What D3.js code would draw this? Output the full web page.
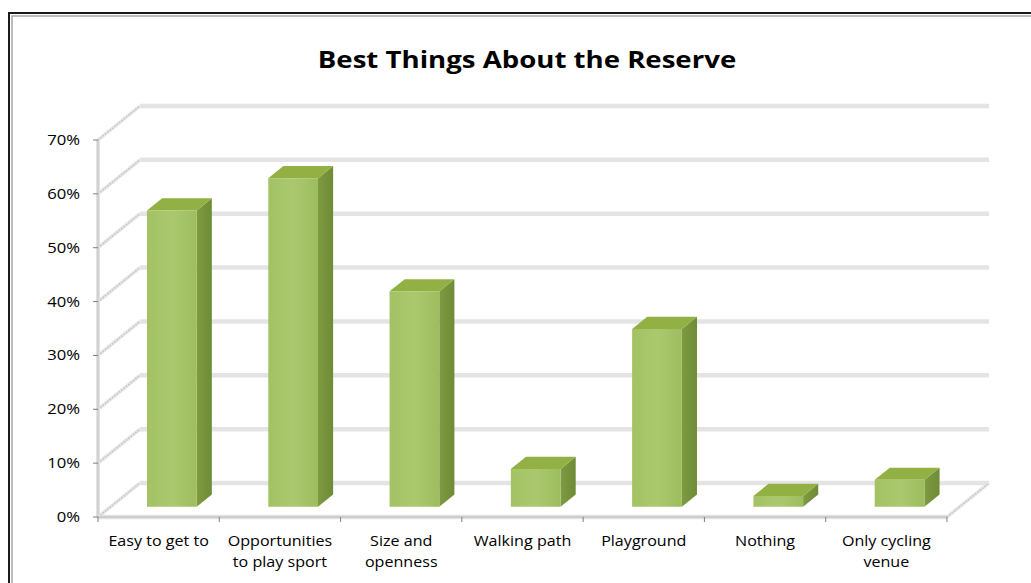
<!DOCTYPE html>
<html>
<head>
<meta charset="utf-8">
<script src="https://cdn.jsdelivr.net/npm/d3@7"></script>
<style>
  html, body { margin: 0; padding: 0; background: #ffffff; }
  svg { display: block; }
</style>
</head>
<body>
<svg id="chart" width="1031" height="583"></svg>
<script>
// ---- data ----
const categories = ["Easy to get to", "Opportunities to play sport", "Size and openness", "Walking path", "Playground", "Nothing", "Only cycling venue"];
const categoryLines = [["Easy to get to"], ["Opportunities", "to play sport"], ["Size and", "openness"], ["Walking path"], ["Playground"], ["Nothing"], ["Only cycling", "venue"]];
const values = [0.55, 0.61, 0.40, 0.07, 0.33, 0.02, 0.05];
const tickValues = [0, 0.1, 0.2, 0.3, 0.4, 0.5, 0.6, 0.7];
const title = "Best Things About the Reserve";

// ---- layout ----
const W = 1031, H = 583;
const svg = d3.select("#chart");
const FONT = "'Open Sans', Lato, sans-serif";
const SX = 1.15;                  // horizontal text stretch (source image is widened)
const DX = 42, DY = -34;          // full depth offset
const D0 = 0.30, D1 = 0.66;       // bar depth range

const x = d3.scaleBand().domain(categories).range([98, 947]).paddingInner(0).paddingOuter(0);
const y = d3.scaleLinear().domain([0, 0.7]).range([517, 140]);

const defs = svg.append("defs");
const gFront = defs.append("linearGradient").attr("id", "gFront").attr("x1", 0).attr("x2", 1).attr("y1", 0).attr("y2", 0);
gFront.append("stop").attr("offset", "0%").attr("stop-color", "#a3c263");
gFront.append("stop").attr("offset", "50%").attr("stop-color", "#abc86f");
gFront.append("stop").attr("offset", "100%").attr("stop-color", "#9ebd5e");
const gSide = defs.append("linearGradient").attr("id", "gSide").attr("x1", 0).attr("x2", 1).attr("y1", 0).attr("y2", 0);
gSide.append("stop").attr("offset", "0%").attr("stop-color", "#7e9b42");
gSide.append("stop").attr("offset", "100%").attr("stop-color", "#6e8b36");
const blur = defs.append("filter").attr("id", "soft").attr("x", "-5%").attr("y", "-50%").attr("width", "110%").attr("height", "200%");
blur.append("feGaussianBlur").attr("stdDeviation", 0.6);

function stretchedText(g, ax, ay, anchor, size, weight) {
  return g.append("text")
    .attr("transform", `translate(${ax},${ay}) scale(${SX},1)`)
    .attr("x", 0).attr("y", 0)
    .attr("text-anchor", anchor)
    .attr("font-family", FONT).attr("font-size", size).attr("font-weight", weight || "normal")
    .attr("fill", "#000");
}

// ---- frame ----
svg.append("rect").attr("x", 0).attr("y", 0).attr("width", W).attr("height", H).attr("fill", "#ffffff");
svg.append("path").attr("d", `M9,${H} V13 H${W}`).attr("fill", "none").attr("stroke", "#1a1a1a").attr("stroke-width", 2);
svg.append("path").attr("d", `M12,${H} V16 H${W}`).attr("fill", "none").attr("stroke", "#a6a6a6").attr("stroke-width", 1.5);

// ---- title ----
stretchedText(svg, 527, 68, "middle", 24, "bold").text(title);

// ---- walls & gridlines ----
const gridG = svg.append("g");
const x0 = x.range()[0], x1 = x.range()[1];
const backRight = x1 + DX;
// back wall horizontal gridlines
tickValues.forEach(t => {
  const yy = y(t) + DY;
  gridG.append("line").attr("x1", x0 + DX).attr("x2", backRight).attr("y1", yy).attr("y2", yy)
    .attr("stroke", "#e4e4e4").attr("stroke-width", 4.5);
  gridG.append("line").attr("x1", x0 + DX).attr("x2", backRight).attr("y1", yy).attr("y2", yy)
    .attr("stroke", "#c8c8c8").attr("stroke-width", 1.8).attr("filter", "url(#soft)");
});
// left wall diagonals
tickValues.forEach(t => {
  const yy = y(t);
  gridG.append("line").attr("x1", x0).attr("y1", yy).attr("x2", x0 + DX).attr("y2", yy + DY)
    .attr("stroke", "#e6e6e6").attr("stroke-width", 3.5);
  gridG.append("line").attr("x1", x0).attr("y1", yy).attr("x2", x0 + DX).attr("y2", yy + DY)
    .attr("stroke", "#c4c4c4").attr("stroke-width", 1.5).attr("stroke-dasharray", "1.5,1.5");
});
// front vertical axis line
gridG.append("line").attr("x1", x0).attr("x2", x0).attr("y1", y(0)).attr("y2", y(0.7))
  .attr("stroke", "#e2e2e2").attr("stroke-width", 4);
gridG.append("line").attr("x1", x0).attr("x2", x0).attr("y1", y(0)).attr("y2", y(0.7))
  .attr("stroke", "#cdcdcd").attr("stroke-width", 1.5);
// floor front edge and right edge
gridG.append("line").attr("x1", x0).attr("x2", x1).attr("y1", y(0)).attr("y2", y(0))
  .attr("stroke", "#e2e2e2").attr("stroke-width", 4.5);
gridG.append("line").attr("x1", x0).attr("x2", x1).attr("y1", y(0)).attr("y2", y(0))
  .attr("stroke", "#cdcdcd").attr("stroke-width", 1.8);
gridG.append("line").attr("x1", x1).attr("y1", y(0)).attr("x2", x1 + DX).attr("y2", y(0) + DY)
  .attr("stroke", "#e6e6e6").attr("stroke-width", 3.5);
gridG.append("line").attr("x1", x1).attr("y1", y(0)).attr("x2", x1 + DX).attr("y2", y(0) + DY)
  .attr("stroke", "#c4c4c4").attr("stroke-width", 1.5).attr("stroke-dasharray", "1.5,1.5");

// ---- y axis ticks & labels ----
const yAxisG = svg.append("g");
tickValues.forEach(t => {
  yAxisG.append("line").attr("x1", x0 - 5).attr("x2", x0).attr("y1", y(t)).attr("y2", y(t))
    .attr("stroke", "#7f7f7f").attr("stroke-width", 1);
  stretchedText(yAxisG, 80, y(t) + 5, "end", 14.5).text(d3.format(".0%")(t));
});

// ---- x axis ticks & labels ----
const xAxisG = svg.append("g");
const boundaries = categories.map(c => x(c)).concat([x1]);
boundaries.forEach(b => {
  xAxisG.append("line").attr("x1", b).attr("x2", b).attr("y1", y(0)).attr("y2", y(0) + 5)
    .attr("stroke", "#7f7f7f").attr("stroke-width", 1);
});
categories.forEach((c, i) => {
  const t = stretchedText(xAxisG, x(c) + x.bandwidth() / 2, 546, "middle", 14);
  categoryLines[i].forEach((ln, j) => {
    t.append("tspan").attr("x", 0).attr("y", j * 21).text(ln);
  });
});

// ---- bars ----
const barsG = svg.append("g");
const bw = x.bandwidth();
categories.forEach((c, i) => {
  const v = values[i];
  const bx0 = x(c) + 0.30 * bw;
  const bx1 = bx0 + 0.41 * bw;
  const P = (px, py, d) => [px + d * DX, py + d * DY];
  const yt = y(v), yb = y(0);
  const fTL = P(bx0, yt, D0), fTR = P(bx1, yt, D0), fBR = P(bx1, yb, D0), fBL = P(bx0, yb, D0);
  const bTL = P(bx0, yt, D1), bTR = P(bx1, yt, D1), bBR = P(bx1, yb, D1);
  const poly = pts => "M" + pts.map(p => p.join(",")).join("L") + "Z";
  // side
  barsG.append("path").attr("d", poly([fTR, bTR, bBR, fBR])).attr("fill", "url(#gSide)");
  // top
  barsG.append("path").attr("d", poly([fTL, fTR, bTR, bTL])).attr("fill", "#92b044");
  // front
  barsG.append("path").attr("d", poly([fTL, fTR, fBR, fBL])).attr("fill", "url(#gFront)");
});
</script>
</body>
</html>
